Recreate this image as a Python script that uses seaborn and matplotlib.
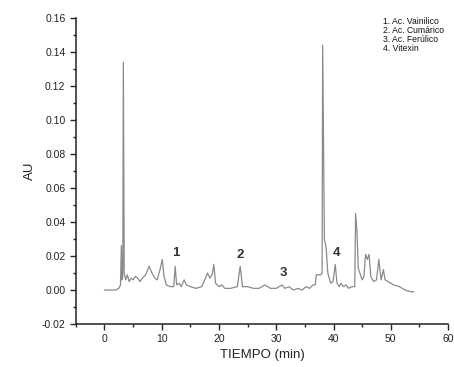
import matplotlib
matplotlib.use('Agg')
import matplotlib.pyplot as plt
from matplotlib.ticker import MultipleLocator
import seaborn as sns
import pandas as pd

# chromatogram trace (minutes, AU)
tiempo = [0.0, 2.0, 2.5, 2.8, 2.95, 3.05, 3.2, 3.3, 3.45, 3.7, 4.0, 4.3, 4.7, 5.0,
          5.4, 5.8, 6.2, 6.6, 7.2, 7.8, 8.3, 8.8, 9.2, 9.7, 10.1, 10.4, 10.8, 11.5,
          12.1, 12.35, 12.6, 13.0, 13.4, 13.9, 14.3, 15.0, 16.0, 17.0, 17.5, 18.0,
          18.4, 18.8, 19.1, 19.4, 20.0, 20.5, 21.0, 22.0, 23.2, 23.7, 24.1, 25.0,
          26.0, 27.0, 28.0, 29.0, 30.0, 31.0, 31.5, 32.2, 33.0, 33.8, 34.5, 35.2,
          35.8, 36.4, 36.8, 37.0, 37.8, 38.0, 38.1, 38.4, 38.7, 39.0, 39.5, 39.9,
          40.3, 40.6, 41.0, 41.3, 41.7, 42.2, 42.6, 43.2, 43.7, 43.85, 44.1, 44.3,
          44.6, 45.0, 45.3, 45.6, 45.9, 46.2, 46.5, 47.0, 47.5, 47.9, 48.3, 48.7,
          49.0, 49.5, 50.5, 51.5, 52.5, 53.5, 54.0]
au = [0.000, 0.000, 0.001, 0.003, 0.026, 0.006, 0.008, 0.134, 0.010, 0.006, 0.009,
      0.005, 0.007, 0.006, 0.008, 0.007, 0.005, 0.007, 0.009, 0.014, 0.010, 0.007,
      0.006, 0.012, 0.018, 0.008, 0.003, 0.002, 0.002, 0.014, 0.003, 0.004, 0.002,
      0.006, 0.003, 0.002, 0.001, 0.002, 0.006, 0.010, 0.007, 0.009, 0.015, 0.004,
      0.002, 0.003, 0.001, 0.001, 0.002, 0.014, 0.002, 0.002, 0.001, 0.001, 0.003,
      0.001, 0.001, 0.003, 0.001, 0.002, 0.000, 0.001, 0.000, 0.002, 0.001, 0.003,
      0.003, 0.009, 0.009, 0.010, 0.144, 0.030, 0.025, 0.010, 0.004, 0.005, 0.015,
      0.004, 0.002, 0.004, 0.002, 0.003, 0.001, 0.002, 0.002, 0.045, 0.034, 0.013,
      0.010, 0.006, 0.008, 0.021, 0.018, 0.021, 0.008, 0.005, 0.006, 0.018, 0.006,
      0.012, 0.006, 0.005, 0.003, 0.002, 0.000, -0.001, -0.001]

# peak numbers and where they sit
pico_num = ['1', '2', '3', '4']
pico_x = [12.4, 23.7, 31.2, 40.5]
pico_y = [0.022, 0.0205, 0.010, 0.022]

leyenda = ['1. Ac. Vainilico', '2. Ac. Cumárico', '3. Ac. Ferúlico', '4. Vitexin']

sns.set_style('ticks')
plt.rcParams['font.family'] = ['Liberation Sans', 'DejaVu Sans']

fig = plt.figure(figsize=(4.54, 3.67), dpi=100)
ax = fig.add_axes([0.167, 0.117, 0.82, 0.834])

df = pd.DataFrame({'tiempo': tiempo, 'au': au})
sns.lineplot(data=df, x='tiempo', y='au', ax=ax, color='#8a8a8a',
             linewidth=0.9, estimator=None, sort=False)

for n, x, y in zip(pico_num, pico_x, pico_y):
    ax.text(x, y, n, ha='center', va='center', fontsize=9.5,
            fontweight='bold', color='#333333')

for i, t in enumerate(leyenda):
    fig.text(0.843, 0.953 - i * 0.024, t, fontsize=6.2,
             family=['Liberation Sans Narrow', 'Liberation Sans'],
             color='#111111', va='top')

ax.set_xlim(-5, 60)
ax.set_ylim(-0.02, 0.16)
ax.xaxis.set_major_locator(MultipleLocator(10))
ax.xaxis.set_minor_locator(MultipleLocator(5))
ax.yaxis.set_major_locator(MultipleLocator(0.02))
ax.yaxis.set_minor_locator(MultipleLocator(0.01))
ax.yaxis.set_major_formatter(plt.FuncFormatter(lambda v, p: f'{v:.2f}'))
ax.tick_params(which='major', length=4, width=1, labelsize=7.5,
               direction='out', labelcolor='#222222')
ax.tick_params(which='minor', length=2.5, width=1, direction='out')
sns.despine(ax=ax)
for s in ['left', 'bottom']:
    ax.spines[s].set_linewidth(1.1)
    ax.spines[s].set_color('#222222')

ax.set_xlabel('TIEMPO (min)', fontsize=9.5, labelpad=3, color='#222222')
ax.set_ylabel('AU', fontsize=9.5, labelpad=4, color='#222222')

plt.savefig('out.png', dpi=100)
plt.close('all')
